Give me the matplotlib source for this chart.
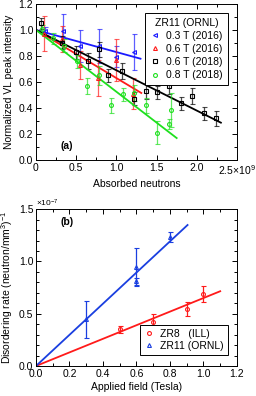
import numpy as np
import matplotlib
matplotlib.use("Agg")
import matplotlib.pyplot as plt
from matplotlib.ticker import MultipleLocator, FuncFormatter
from matplotlib.lines import Line2D

plt.rcParams['font.family'] = ['Liberation Sans', 'DejaVu Sans']
plt.rcParams['font.size'] = 7.5
plt.rcParams['mathtext.default'] = 'regular'

# panel (a): absorbed neutrons in units of 1e9
x_03_2016 = [0.115, 0.34, 0.55, 0.78, 1.0, 1.22]
y_03_2016 = [0.995, 0.995, 0.877, 0.877, 0.795, 0.83]
e_03_2016 = [0.03, 0.13, 0.12, 0.13, 0.08, 0.14]

x_06_2016 = [0.1, 0.32, 0.55, 0.775, 1.0, 1.21]
y_06_2016 = [0.97, 0.93, 0.73, 0.63, 0.77, 0.51]
e_06_2016 = [0.135, 0.1, 0.11, 0.14, 0.16, 0.12]

x_06_2018 = [0.066, 0.32, 0.5, 0.65, 0.78, 0.9, 1.07, 1.22, 1.37, 1.51, 1.66,
             1.80, 1.94, 2.09, 2.235]
y_06_2018 = [1.05, 0.90, 0.83, 0.76, 0.85, 0.65, 0.685, 0.47, 0.53, 0.52, 0.57,
             0.435, 0.49, 0.36, 0.32]
e_06_2018 = [0.04, 0.05, 0.05, 0.06, 0.06, 0.05, 0.06, 0.05, 0.06, 0.05, 0.06,
             0.05, 0.06, 0.05, 0.06]

x_08_2018 = [0.075, 0.215, 0.35, 0.51, 0.64, 0.79, 0.93, 1.08, 1.22, 1.37, 1.50,
             1.66, 1.675]
y_08_2018 = [1.01, 0.935, 0.88, 0.76, 0.57, 0.65, 0.42, 0.505, 0.515, 0.42, 0.21,
             0.275, 0.385]
e_08_2018 = [0.03, 0.04, 0.05, 0.05, 0.06, 0.07, 0.06, 0.05, 0.06, 0.06, 0.09,
             0.04, 0.13]

# linear fits in panel (a): (intercept, slope, x end)
fit_a = {
    '03_2016': (1.0, -0.17, 1.3),
    '06_2016': (1.0, -0.37, 1.31),
    '06_2018': (1.0, -0.31, 2.3),
    '08_2018': (1.0, -0.475, 1.75),
}

# panel (b): disordering rate in units of 1e-7
field_zr8 = [0.5, 0.7, 0.9, 1.0]
rate_zr8 = [0.35, 0.423, 0.545, 0.69]
err_zr8 = [0.035, 0.07, 0.07, 0.075]

field_zr11 = [0.3, 0.6, 0.6, 0.8]
rate_zr11 = [0.446, 0.948, 0.81, 1.235]
err_zr11 = [0.18, 0.18, 0.035, 0.05]

slope_zr8, xend_zr8 = 0.65, 1.1
slope_zr11, xend_zr11 = 1.49, 0.905

fig = plt.figure(figsize=(2.56, 3.96), dpi=100)
ax1 = fig.add_axes([0.1406, 0.596, 0.785, 0.394])
ax2 = fig.add_axes([0.1406, 0.0758, 0.785, 0.396])

blue = '#1a1aff'
blue_b = '#1a3fe0'
red = '#ff1a1a'
green = '#1ee01e'
mk = dict(markersize=2.8, markerfacecolor='none', markeredgewidth=0.8,
          linestyle='none', capsize=1.8, elinewidth=0.9, capthick=0.9)


def handle(m, c):
    return Line2D([], [], marker=m, color=c, markersize=2.8, markerfacecolor='none',
                  markeredgewidth=0.8, linestyle='none')


series = [
    (x_03_2016, y_03_2016, e_03_2016, blue, '<', '0.3 T (2016)', '03_2016'),
    (x_06_2016, y_06_2016, e_06_2016, red, '^', '0.6 T (2016)', '06_2016'),
    (x_06_2018, y_06_2018, e_06_2018, 'black', 's', '0.6 T (2018)', '06_2018'),
    (x_08_2018, y_08_2018, e_08_2018, green, 'o', '0.8 T (2018)', '08_2018'),
]
handles_a = []
for xs, ys, es, c, m, lab, key in series:
    eb = ax1.errorbar(xs, ys, yerr=es, marker=m, color=c, ecolor=c, **mk)
    for line in eb[1] + eb[2]:
        line.set_alpha(0.7)
    b0, k, xe = fit_a[key]
    xf = np.array([0, xe])
    ax1.plot(xf, b0 + k * xf, color=c, lw=1.3)
    handles_a.append((handle(m, c), lab))

ax1.set_xlim(0, 2.5)
ax1.set_ylim(0, 1.2)
ax1.xaxis.set_major_locator(MultipleLocator(0.5))
ax1.xaxis.set_minor_locator(MultipleLocator(0.25))
ax1.yaxis.set_major_locator(MultipleLocator(0.2))
ax1.yaxis.set_minor_locator(MultipleLocator(0.1))


def fmt_a(v, pos):
    if abs(v) < 1e-9:
        return '0'
    if abs(v - 2.5) < 1e-9:
        return '2.5×10$^9$'
    return '%.1f' % v


ax1.xaxis.set_major_formatter(FuncFormatter(fmt_a))
ax1.set_xlabel('Absorbed neutrons', labelpad=2)
ax1.set_ylabel('Normalized VL peak intensity', labelpad=3)
ax1.text(0.12, 0.07, '(a)', fontweight='bold', transform=ax1.transAxes)
leg = ax1.legend([h for h, _ in handles_a], [l for _, l in handles_a],
                 title='ZR11 (ORNL)', loc='upper right', fontsize=7.5,
                 title_fontsize=7.5, handlelength=1.0, handletextpad=0.6,
                 borderpad=0.45, labelspacing=0.3, fancybox=False,
                 edgecolor='black', framealpha=1, bbox_to_anchor=(0.98, 0.975))
leg.get_frame().set_linewidth(0.7)

ax2.errorbar(field_zr8, rate_zr8, yerr=err_zr8, marker='o', color=red,
             ecolor=red, **mk)
ax2.errorbar(field_zr11, rate_zr11, yerr=err_zr11, marker='^', color=blue_b,
             ecolor=blue_b, **mk)
xf = np.array([0, xend_zr8])
ax2.plot(xf, slope_zr8 * xf, color=red, lw=1.3)
xf = np.array([0, xend_zr11])
ax2.plot(xf, slope_zr11 * xf, color=blue_b, lw=1.3)

ax2.set_xlim(0, 1.2)
ax2.set_ylim(0, 1.5)
ax2.xaxis.set_major_locator(MultipleLocator(0.2))
ax2.xaxis.set_minor_locator(MultipleLocator(0.1))
ax2.yaxis.set_major_locator(MultipleLocator(0.5))
ax2.yaxis.set_minor_locator(MultipleLocator(0.1))
ax2.xaxis.set_major_formatter(FuncFormatter(lambda v, p: '%.1f' % v))
ax2.yaxis.set_major_formatter(FuncFormatter(lambda v, p: '%.1f' % v))
ax2.set_xlabel('Applied field (Tesla)', labelpad=2)
ax2.set_ylabel('Disordering rate (neutron/mm$^3$)$^{-1}$', labelpad=3)
ax2.text(0.0, 1.015, '×10$^{-7}$', transform=ax2.transAxes, fontsize=6)
ax2.text(0.12, 0.9, '(b)', fontweight='bold', transform=ax2.transAxes)
leg2 = ax2.legend([handle('o', red), handle('^', blue_b)],
                  ['ZR8   (ILL)', 'ZR11 (ORNL)'], loc='lower right',
                  fontsize=7.5, handlelength=1.0, handletextpad=0.6,
                  borderpad=0.35, labelspacing=0.2, fancybox=False,
                  edgecolor='black', framealpha=1, bbox_to_anchor=(0.98, 0.04))
leg2.get_frame().set_linewidth(0.7)

for ax in (ax1, ax2):
    ax.tick_params(which='both', direction='in', top=True, right=True,
                   labelsize=7.5, pad=2, width=0.7)
    ax.tick_params(which='major', length=3.5)
    ax.tick_params(which='minor', length=2)
    for s in ax.spines.values():
        s.set_linewidth(0.7)

fig.savefig('out.png', dpi=100)
